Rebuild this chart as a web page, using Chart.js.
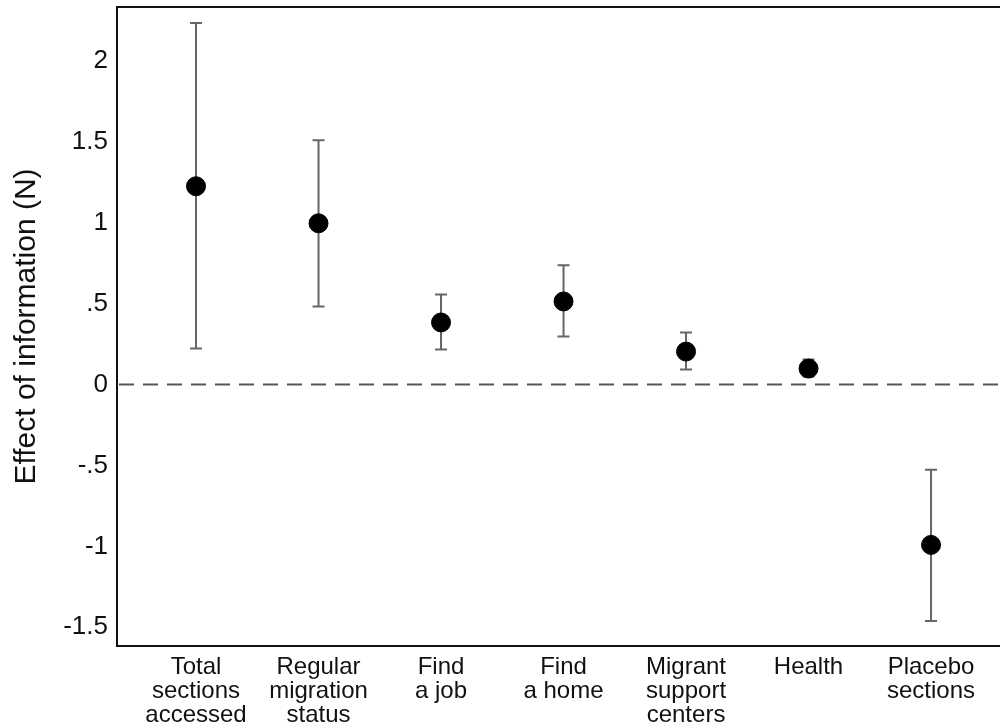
<!DOCTYPE html>
<html>
<head>
<meta charset="utf-8">
<script src="https://cdn.jsdelivr.net/npm/chart.js@4"></script>
<style>
html,body{margin:0;padding:0;background:#fff;}
#wrap{width:1000px;height:728px;position:relative;}
</style>
</head>
<body>
<div id="wrap"><canvas id="c" width="1000" height="728"></canvas></div>
<script>
const categories = [
  ["Total","sections","accessed"],
  ["Regular","migration","status"],
  ["Find","a job"],
  ["Find","a home"],
  ["Migrant","support","centers"],
  ["Health"],
  ["Placebo","sections"]
];
const positions = [1, 2, 3, 4, 5, 6, 7];
const estimates = [1.226, 0.997, 0.384, 0.514, 0.204, 0.099, -0.991];
const lowerCI   = [0.223, 0.483, 0.217, 0.297, 0.093, 0.050, -1.461];
const upperCI   = [2.235, 1.511, 0.557, 0.737, 0.322, 0.155, -0.526];
const yTicks = [-1.5, -1, -0.5, 0, 0.5, 1, 1.5, 2];
const yTickLabels = ["-1.5", "-1", "-.5", "0", ".5", "1", "1.5", "2"];

const FONT = "'Liberation Sans', Arial, sans-serif";

const extrasPlugin = {
  id: 'extras',
  beforeDatasetsDraw(chart) {
    const {ctx, chartArea, scales} = chart;
    const x = scales.x, y = scales.y;
    ctx.save();
    const y0 = y.getPixelForValue(0);
    ctx.strokeStyle = '#555';
    ctx.lineWidth = 2;
    ctx.setLineDash([15, 9]);
    ctx.beginPath();
    ctx.moveTo(chartArea.left + 2, y0);
    ctx.lineTo(chartArea.right, y0);
    ctx.stroke();
    ctx.setLineDash([]);
    ctx.strokeStyle = '#666';
    ctx.lineWidth = 2;
    for (let i = 0; i < positions.length; i++) {
      const px = x.getPixelForValue(positions[i]);
      const lo = y.getPixelForValue(lowerCI[i]);
      const hi = y.getPixelForValue(upperCI[i]);
      ctx.beginPath();
      ctx.moveTo(px, lo); ctx.lineTo(px, hi);
      ctx.moveTo(px - 6, lo); ctx.lineTo(px + 6, lo);
      ctx.moveTo(px - 6, hi); ctx.lineTo(px + 6, hi);
      ctx.stroke();
    }
    ctx.restore();
  },
  afterDraw(chart) {
    const {ctx, chartArea} = chart;
    ctx.save();
    ctx.strokeStyle = '#111';
    ctx.lineWidth = 2;
    ctx.beginPath();
    ctx.moveTo(chartArea.right + 2, chartArea.top);
    ctx.lineTo(chartArea.left, chartArea.top);
    ctx.lineTo(chartArea.left, chartArea.bottom);
    ctx.lineTo(chartArea.right + 2, chartArea.bottom);
    ctx.stroke();
    ctx.restore();
  }
};

new Chart(document.getElementById('c'), {
  type: 'scatter',
  data: {
    datasets: [{
      data: positions.map((p, i) => ({x: p, y: estimates[i]})),
      backgroundColor: '#000',
      borderColor: '#000',
      pointRadius: 9.5,
      pointHoverRadius: 9.5,
      clip: false
    }]
  },
  options: {
    responsive: false,
    animation: false,
    events: [],
    layout: {autoPadding: false, padding: {top: 7, right: 0, left: 0, bottom: 0}},
    plugins: {legend: {display: false}, tooltip: {enabled: false}},
    scales: {
      x: {
        type: 'linear',
        min: 0.355,
        max: 7.563,
        grid: {display: false, drawTicks: false},
        border: {display: false},
        afterBuildTicks(scale) { scale.ticks = positions.map(v => ({value: v})); },
        afterFit(scale) {
          scale.height = 82;
          scale.paddingLeft = 0; scale.paddingRight = 0;
          scale.paddingTop = 0; scale.paddingBottom = 0;
        },
        ticks: {
          autoSkip: false,
          maxRotation: 0,
          padding: 9,
          color: '#111',
          font: {family: FONT, size: 24, lineHeight: 1.0},
          callback: (v) => categories[positions.indexOf(v)]
        }
      },
      y: {
        min: -1.616,
        max: 2.334,
        grid: {display: false, drawTicks: false},
        border: {display: false},
        afterBuildTicks(scale) { scale.ticks = yTicks.map(v => ({value: v})); },
        afterFit(scale) {
          scale.width = 117;
          scale.paddingTop = 0; scale.paddingBottom = 0;
          scale.paddingLeft = 0; scale.paddingRight = 0;
        },
        ticks: {
          padding: 9,
          color: '#111',
          font: {family: FONT, size: 26},
          callback: (v) => yTickLabels[yTicks.indexOf(v)]
        },
        title: {
          display: true,
          text: 'Effect of information (N)',
          color: '#111',
          font: {family: FONT, size: 30},
          padding: {top: 9, bottom: 0}
        }
      }
    }
  },
  plugins: [extrasPlugin]
});
</script>
</body>
</html>
